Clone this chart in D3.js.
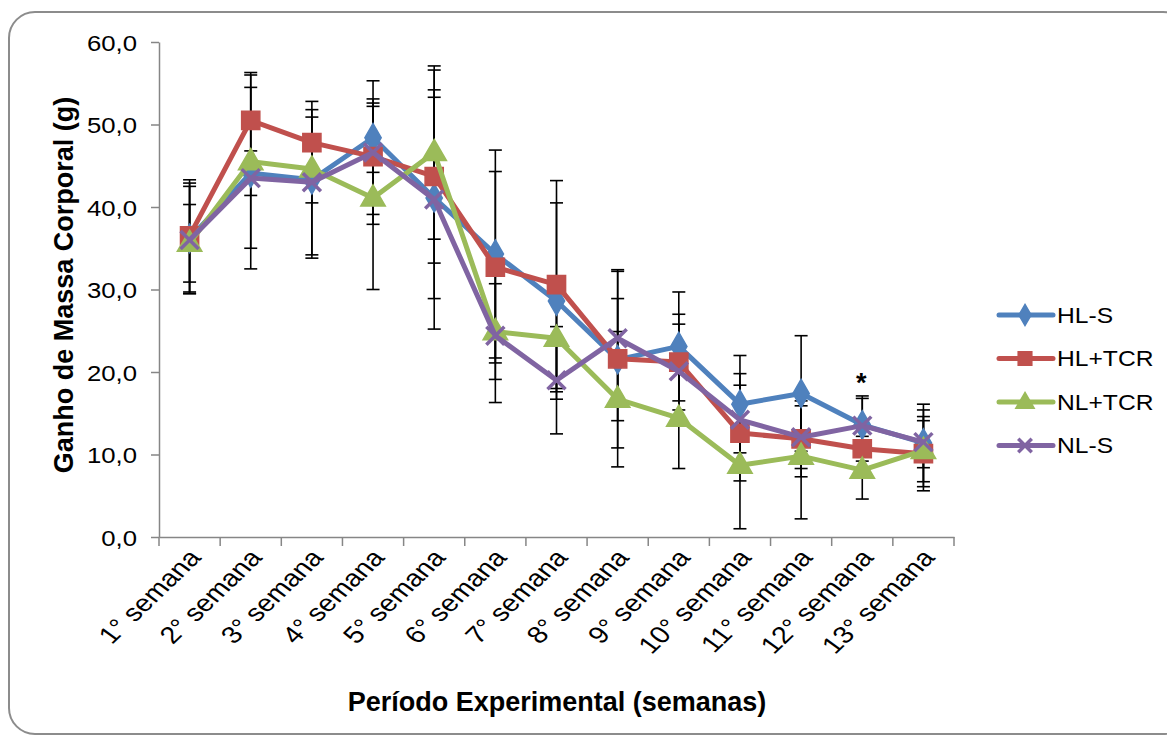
<!DOCTYPE html>
<html>
<head>
<meta charset="utf-8">
<script src="https://d3js.org/d3.v7.min.js"></script>
<style>
    html, body { margin: 0; padding: 0; background: #fff; }
    svg text { font-family: "Liberation Sans", Arial, sans-serif; fill: #000; }
    .axis path, .axis line { stroke: #868686; stroke-width: 1.5px; }
</style>
</head>
<body>
<div id="chart"></div>
<script>
    // categories
    var weeks = ["1° semana", "2° semana", "3° semana", "4° semana", "5° semana", "6° semana",
                 "7° semana", "8° semana", "9° semana", "10° semana", "11° semana", "12° semana", "13° semana"];

    // series means (g)
    var hlS   = [36.2, 44.1, 43.3, 48.4, 41.1, 34.3, 28.6, 21.5, 23.1, 16.1, 17.4, 13.6, 11.4];
    var hlTCR = [36.5, 50.5, 47.8, 46.1, 43.7, 32.7, 30.6, 21.6, 21.2, 12.6, 11.9, 10.7, 10.1];
    var nlTCR = [35.6, 45.5, 44.6, 41.1, 46.6, 24.9, 24.1, 16.7, 14.4,  8.7,  9.8,  8.1, 10.5];
    var nlS   = [36.0, 43.5, 43.0, 46.6, 40.9, 24.4, 19.0, 24.1, 20.1, 14.2, 12.1, 13.5, 11.5];

    // error bars (+/-)
    var hlS_err   = [6.7, 2.7, 9.5, 4.2, 12.2, 12.6, 11.9, 7.4, 6.6, 5.9, 7.0, 3.5, 4.7];
    var hlTCR_err = [6.8, 5.8, 3.1, 7.0, 10.5, 11.6, 12.6, 10.8, 5.8, 5.8, 4.6, 1.5, 4.0];
    var nlTCR_err = [4.7, 10.5, 4.1, 11.1, 10.5, 5.8, 6.5, 8.2, 6.1, 7.7, 7.6, 3.5, 4.9];
    var nlS_err   = [6.5, 11.0, 8.8, 8.7, 15.7, 8.1, 6.5, 8.1, 5.7, 5.6, 3.8, 3.3, 3.1];

    var yTicks = [0, 10, 20, 30, 40, 50, 60];
    var starWeek = "12° semana";

    var series = [
        {name: "HL-S",   values: hlS,   err: hlS_err,   color: "#4F81BD", symbol: "diamond"},
        {name: "HL+TCR", values: hlTCR, err: hlTCR_err, color: "#C0504D", symbol: "square"},
        {name: "NL+TCR", values: nlTCR, err: nlTCR_err, color: "#9BBB59", symbol: "triangle"},
        {name: "NL-S",   values: nlS,   err: nlS_err,   color: "#8064A2", symbol: "cross"}
    ];

    var W = 1167, H = 740;
    var SX = 1.12;   // text in the reference looks a bit stretched sideways

    var svg = d3.select("#chart").append("svg")
        .attr("width", W)
        .attr("height", H);

    // outer frame
    svg.append("rect")
        .attr("x", 9).attr("y", 12)
        .attr("width", 1180).attr("height", 722)
        .attr("rx", 26)
        .attr("fill", "#fff")
        .attr("stroke", "#8c8c8c")
        .attr("stroke-width", 2);

    var x = d3.scaleBand().domain(weeks).range([159, 954]);
    var y = d3.scaleLinear().domain([0, 60]).range([537, 42]);
    var cx = function(d) { return x(d) + x.bandwidth() / 2; };

    // y axis
    var yAxis = svg.append("g")
        .attr("class", "axis")
        .attr("transform", "translate(159,0)")
        .call(d3.axisLeft(y).tickValues(yTicks).tickSize(8).tickSizeOuter(0)
            .tickFormat(function(d) { return d3.format(".1f")(d).replace(".", ","); }));
    yAxis.selectAll("text")
        .attr("x", null)
        .attr("transform", "translate(-22,0) scale(" + SX + ",1)")
        .attr("dy", "0.36em")
        .style("font-size", "23px");

    // x axis
    var xAxis = svg.append("g")
        .attr("class", "axis")
        .attr("transform", "translate(0,537)")
        .call(d3.axisBottom(x).tickSize(0).tickSizeOuter(0).tickFormat(""));
    xAxis.selectAll(".edge")
        .data(weeks.concat(["end"]))
        .enter().append("line")
        .attr("x1", function(d) { return d === "end" ? x.range()[1] : x(d); })
        .attr("x2", function(d) { return d === "end" ? x.range()[1] : x(d); })
        .attr("y1", 0).attr("y2", 9);

    svg.append("g").selectAll("text")
        .data(weeks)
        .enter().append("text")
        .attr("transform", function(d) {
            return "translate(" + (cx(d) + 5) + ",553) scale(1.2,1) rotate(-49)";
        })
        .attr("text-anchor", "end")
        .attr("dy", "0.35em")
        .style("font-size", "24px")
        .text(function(d) { return d; });

    // axis titles
    svg.append("text")
        .attr("transform", "translate(73,285) rotate(-90)")
        .attr("text-anchor", "middle")
        .style("font-size", "27px")
        .style("font-weight", "bold")
        .text("Ganho de Massa Corporal (g)");

    svg.append("text")
        .attr("x", 557).attr("y", 711)
        .attr("text-anchor", "middle")
        .style("font-size", "27px")
        .style("font-weight", "bold")
        .text("Período Experimental (semanas)");

    // error bars
    var capW = 6.5;
    var errG = svg.append("g")
        .attr("stroke", "#000")
        .attr("stroke-width", 1.6);
    series.forEach(function(s) {
        weeks.forEach(function(w, i) {
            var px = cx(w);
            var top = y(s.values[i] + s.err[i]);
            var bot = y(s.values[i] - s.err[i]);
            errG.append("line").attr("x1", px).attr("x2", px).attr("y1", top).attr("y2", bot);
            errG.append("line").attr("x1", px - capW).attr("x2", px + capW).attr("y1", top).attr("y2", top);
            errG.append("line").attr("x1", px - capW).attr("x2", px + capW).attr("y1", bot).attr("y2", bot);
        });
    });

    var line = d3.line()
        .x(function(d, i) { return cx(weeks[i]); })
        .y(function(d) { return y(d); });

    var symbols = {diamond: d3.symbolDiamond, square: d3.symbolSquare, triangle: d3.symbolTriangle};

    function drawMarker(g, symbol, color, px, py, scale) {
        if (symbol === "cross") {
            var r = 9 * scale;
            g.append("path")
                .attr("d", "M" + (px - r) + "," + (py - r) + "L" + (px + r) + "," + (py + r) +
                           "M" + (px - r) + "," + (py + r) + "L" + (px + r) + "," + (py - r))
                .attr("stroke", color)
                .attr("stroke-width", 3.5)
                .attr("fill", "none");
            return;
        }
        var size = {diamond: 230, square: 330, triangle: 260}[symbol] * scale * scale;
        g.append("path")
            .attr("d", d3.symbol().type(symbols[symbol]).size(size)())
            .attr("transform", "translate(" + px + "," + (py + (symbol === "triangle" ? 1 : 0)) + ")")
            .attr("fill", color)
            .attr("stroke", color)
            .attr("stroke-width", 1.5);
    }

    series.forEach(function(s) {
        var g = svg.append("g");
        g.append("path")
            .datum(s.values)
            .attr("d", line)
            .attr("fill", "none")
            .attr("stroke", s.color)
            .attr("stroke-width", 5)
            .attr("stroke-linejoin", "round");
        s.values.forEach(function(v, i) {
            drawMarker(g, s.symbol, s.color, cx(weeks[i]), y(v), 1);
        });
    });

    // significance mark
    var starIdx = weeks.indexOf(starWeek);
    svg.append("text")
        .attr("x", cx(starWeek) - 1)
        .attr("y", y(hlS[starIdx] + hlS_err[starIdx]) - 4)
        .attr("text-anchor", "middle")
        .style("font-size", "27px")
        .style("font-weight", "bold")
        .text("*");

    // legend
    var legend = svg.append("g");
    series.forEach(function(s, i) {
        var ly = 315 + i * 43.5;
        legend.append("line")
            .attr("x1", 999).attr("x2", 1053)
            .attr("y1", ly).attr("y2", ly)
            .attr("stroke", s.color)
            .attr("stroke-width", 5)
            .attr("stroke-linecap", "round");
        drawMarker(legend, s.symbol, s.color, 1025, ly, 0.75);
        legend.append("text")
            .attr("transform", "translate(1057," + ly + ") scale(" + SX + ",1)")
            .attr("dy", "0.36em")
            .style("font-size", "22px")
            .text(s.name);
    });
</script>
</body>
</html>
